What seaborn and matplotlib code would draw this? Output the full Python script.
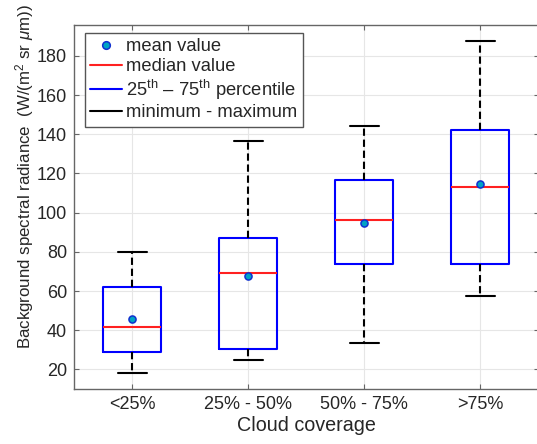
import numpy as np
import pandas as pd
import matplotlib
matplotlib.use("Agg")
import matplotlib.pyplot as plt
from matplotlib.lines import Line2D
import seaborn as sns

# Summary statistics per cloud-coverage class
categories = ["<25%", "25% - 50%", "50% - 75%", ">75%"]
minimum = [18.0, 25.0, 33.7, 57.7]
q1 = [28.7, 30.2, 73.9, 73.8]
median = [41.4, 69.0, 96.4, 113.0]
q3 = [62.0, 86.9, 116.7, 142.4]
maximum = [80.0, 136.6, 144.4, 187.5]
mean = [45.6, 67.6, 94.9, 114.6]

# Five ordered values per class reproduce min/q1/median/q3/max exactly
# with linear percentile interpolation.
rows = []
for c, a, b, m, d, e in zip(categories, minimum, q1, median, q3, maximum):
    for v in (a, b, m, d, e):
        rows.append({"coverage": c, "radiance": v})
df = pd.DataFrame(rows)
df_mean = pd.DataFrame({"coverage": categories, "radiance": mean})

sns.set_style("white")
plt.rcParams["font.family"] = ["Liberation Sans", "DejaVu Sans"]
plt.rcParams["mathtext.fontset"] = "custom"
plt.rcParams["mathtext.rm"] = "Liberation Sans"
plt.rcParams["mathtext.it"] = "Liberation Sans:italic"

fig = plt.figure(figsize=(5.37, 4.44), dpi=100)
ax = fig.add_axes([0.1378, 0.1239, 0.8650, 0.8209])

text_col = "#262626"
sns.boxplot(
    data=df, x="coverage", y="radiance", order=categories,
    whis=(0, 100), width=0.5, fill=False, ax=ax, zorder=3,
    boxprops=dict(color="#0000ff", linewidth=1.5),
    whiskerprops=dict(color="black", linestyle=(0, (3.5, 1.8)), linewidth=1.5),
    capprops=dict(color="black", linewidth=1.5),
    medianprops=dict(color="#ff2020", linewidth=1.5),
    showfliers=False,
)
sns.scatterplot(
    data=df_mean, x="coverage", y="radiance", ax=ax, s=26,
    color="#00a3c4", edgecolor="#1030d0", linewidth=1.1, zorder=5,
)

ax.set_xlim(-0.5, 3.5)
ax.set_ylim(10, 196)
ax.set_yticks(np.arange(20, 181, 20))
ax.grid(True, color="#e6e6e6", linewidth=0.8, zorder=0)
ax.set_axisbelow(True)
for s in ax.spines.values():
    s.set_visible(True)
    s.set_color("#666666")
    s.set_linewidth(1.0)
ax.tick_params(direction="in", length=3.5, width=0.8, color="#666666",
               labelsize=13, labelcolor=text_col, top=True, right=True,
               bottom=True, left=True, pad=5)
ax.set_xlabel("Cloud coverage", fontsize=14.2, color=text_col, labelpad=2)
ax.set_ylabel(r"Background spectral radiance  (W/(m$^2$ sr $\mu$m))",
              fontsize=12.2, color=text_col)
ax.yaxis.set_label_coords(-0.081, 0.582)

handles = [
    Line2D([], [], linestyle="none", marker="o", markersize=5.5,
           markerfacecolor="#00a3c4", markeredgecolor="#1030d0", markeredgewidth=1.1),
    Line2D([], [], color="#ff2020", linewidth=1.5),
    Line2D([], [], color="#0000ff", linewidth=1.5),
    Line2D([], [], color="black", linewidth=1.5),
]
labels = ["mean value", "median value",
          r"25$^{\mathrm{th}}$ – 75$^{\mathrm{th}}$ percentile",
          "minimum - maximum"]
leg = ax.legend(handles, labels, loc="upper left", fontsize=13.2,
                frameon=True, fancybox=False, edgecolor="#555555",
                framealpha=1, borderpad=0.3, labelspacing=0.14,
                handlelength=1.7, handletextpad=0.25, borderaxespad=0,
                bbox_to_anchor=(11 / 465, 1 - 8.5 / 365))
leg.get_frame().set_linewidth(1.0)
for t in leg.get_texts():
    t.set_color(text_col)

fig.savefig("out.png", dpi=100)
